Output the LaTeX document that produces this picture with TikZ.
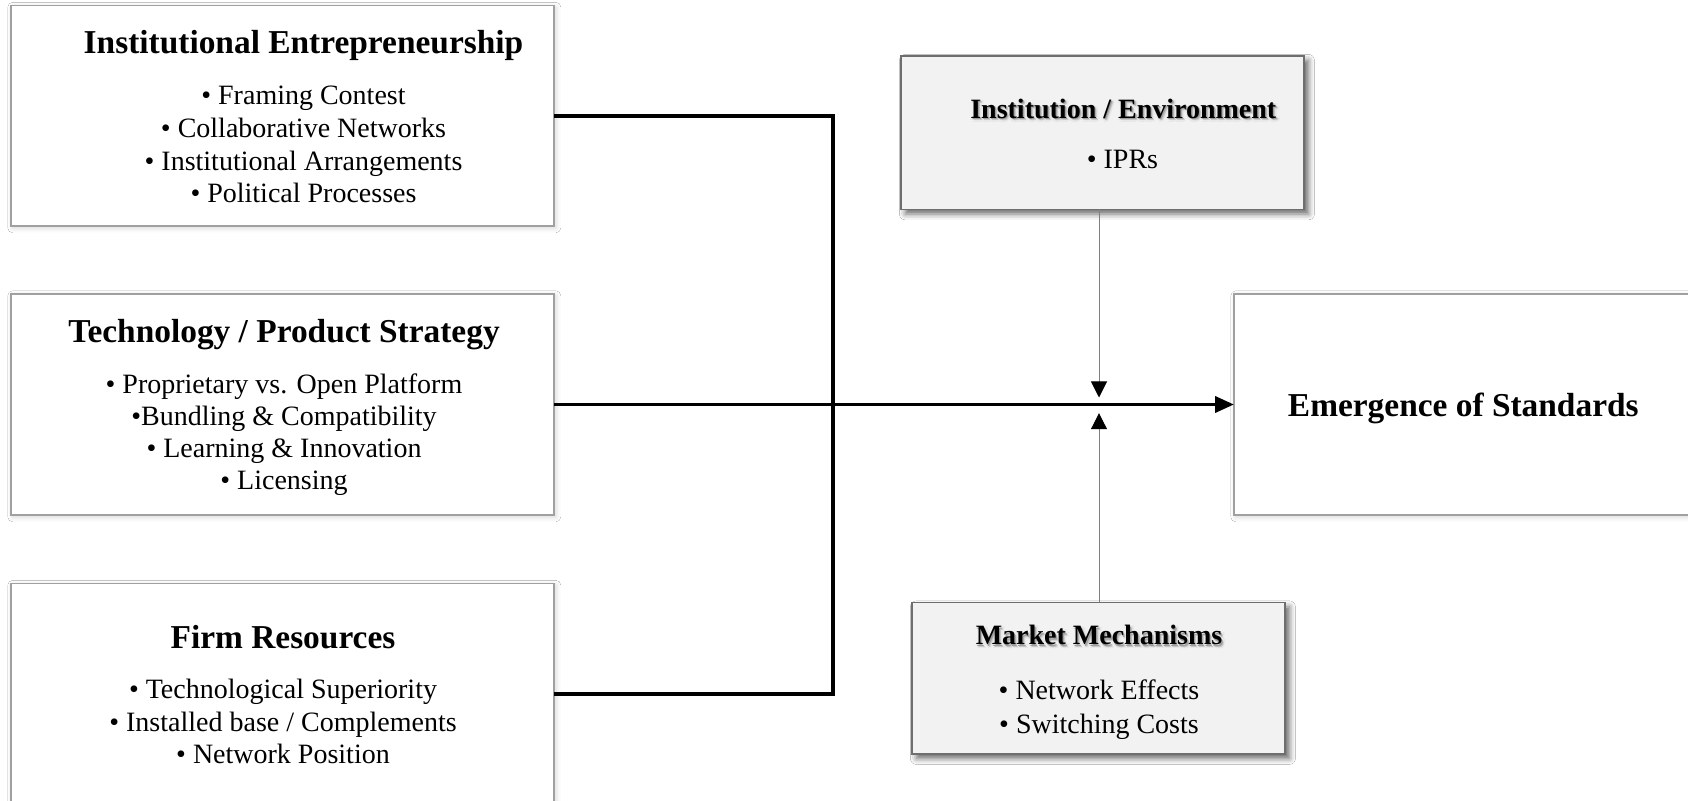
\documentclass[tikz,border=0pt]{standalone}
\usepackage{fontspec}
\setmainfont{Liberation Serif}
\usetikzlibrary{arrows.meta,shadows.blur}

\definecolor{boxline}{RGB}{160,160,160}
\definecolor{gboxline}{RGB}{110,110,110}
\definecolor{gboxfill}{RGB}{242,242,242}
\definecolor{feedline}{RGB}{128,128,128}

\tikzset{
  wbox/.style={draw=boxline, line width=0.65pt, fill=white, rectangle,
    anchor=north west, inner sep=0pt, outer sep=0pt,
    blur shadow={shadow xshift=0.9pt, shadow yshift=-0.9pt,
      shadow blur radius=2.5pt, shadow opacity=18}},
  gbox/.style={draw=gboxline, line width=0.55pt, fill=gboxfill, rectangle,
    anchor=north west, inner sep=0pt, outer sep=0pt,
    blur shadow={shadow xshift=2.2pt, shadow yshift=-2.2pt,
      shadow blur radius=3pt, shadow opacity=60}},
  ttl/.style={anchor=base, inner sep=0pt,
    font=\fontsize{16.7}{20}\selectfont\bfseries},
  gttl/.style={anchor=base, inner sep=0pt,
    font=\fontsize{14}{17}\selectfont\bfseries},
  itm/.style={anchor=base, inner sep=0pt,
    font=\fontsize{14}{17}\selectfont},
  bus/.style={line width=1.9pt, line join=miter, draw=black},
  feed/.style={line width=0.5pt, draw=feedline,
    -{Triangle[length=8pt,width=8pt,fill=black,color=black]}},
}

% text with a soft grey shadow below and to the right
\newcommand\softshade[1]{%
  \rlap{\kern1.7pt\raisebox{-1.7pt}{\color{black!9}#1}}%
  \rlap{\kern0.5pt\raisebox{-1.9pt}{\color{black!9}#1}}%
  \rlap{\kern1.9pt\raisebox{-0.5pt}{\color{black!9}#1}}%
  \rlap{\kern-0.4pt\raisebox{-0.9pt}{\color{black!9}#1}}%
  \rlap{\kern1.1pt\raisebox{-1.1pt}{\color{black!22}#1}}%
  \rlap{\kern0.6pt\raisebox{-0.6pt}{\color{black!38}#1}}%
  #1}

\begin{document}
\begin{tikzpicture}[x=0.5pt,y=-0.5pt]
  \fill[white] (0,0) rectangle (1688,801);
  \useasboundingbox (0,0) rectangle (1688,801);

  % left column: drivers
  \node[wbox, minimum width=271.5pt, minimum height=110.25pt] (ie) at (11,5.5) {};
  \node[wbox, minimum width=271.5pt, minimum height=110.5pt] (tp) at (11,294) {};
  \node[wbox, minimum width=271.5pt, minimum height=110.5pt] (fr) at (11,583.5) {};

  % moderators and outcome
  \node[gbox, minimum width=201.5pt, minimum height=76.75pt] (inst) at (901,56) {};
  \node[gbox, minimum width=186.5pt, minimum height=75.75pt] (mm) at (912,602.5) {};
  \node[wbox, minimum width=229.5pt, minimum height=110.5pt] (es) at (1234,294) {};

  % Institutional Entrepreneurship
  \node[ttl] (ieT) at (303.5,54) {Institutional Entrepreneurship};
  \node[itm] (ie1) at (303.5,104.8) {• Framing Contest};
  \node[itm] (ie2) at (303.5,137.2) {• Collaborative Networks};
  \node[itm] (ie3) at (303.5,170.2) {• Institutional Arrangements};
  \node[itm] (ie4) at (303.5,202.8) {• Political Processes};

  % Technology / Product Strategy
  \node[ttl] (tpT) at (284,342.7) {Technology / Product Strategy};
  \node[itm] (tp1) at (284,393.4) {• Proprietary vs. Open Platform};
  \node[itm] (tp2) at (284,425.2) {•Bundling \& Compatibility};
  \node[itm] (tp3) at (284,457.2) {• Learning \& Innovation};
  \node[itm] (tp4) at (284,489.6) {• Licensing};

  % Firm Resources
  \node[ttl] (frT) at (283,648.5) {Firm Resources};
  \node[itm] (fr1) at (283,699) {• Technological Superiority};
  \node[itm] (fr2) at (283,731.3) {• Installed base / Complements};
  \node[itm] (fr3) at (283,763.6) {• Network Position};

  % Institution / Environment
  \node[gttl] (instT) at (1123.3,118.3) {\softshade{Institution / Environment}};
  \node[itm] (inst1) at (1122.5,168.3) {• IPRs};

  % Market Mechanisms
  \node[gttl] (mmT) at (1099,645) {\softshade{Market Mechanisms}};
  \node[itm] (mm1) at (1099,700) {• Network Effects};
  \node[itm] (mm2) at (1099,733.3) {• Switching Costs};

  % Emergence of Standards
  \node[ttl] (esT) at (1463.3,416.5) {Emergence of Standards};

  % connectors
  \coordinate (bx) at (833,404.25);
  \coordinate (tipD) at (1099,397.5);
  \coordinate (tipU) at (1099,413.2);
  \draw[bus] (ie.east) -| (bx) |- (fr.east);
  \draw[bus, -{Triangle[length=9.5pt,width=8pt]}] (tp.east) -- (es.west);
  \draw[feed] (inst.south -| tipD) -- (tipD);
  \draw[feed] (mm.north -| tipU) -- (tipU);
\end{tikzpicture}
\end{document}
